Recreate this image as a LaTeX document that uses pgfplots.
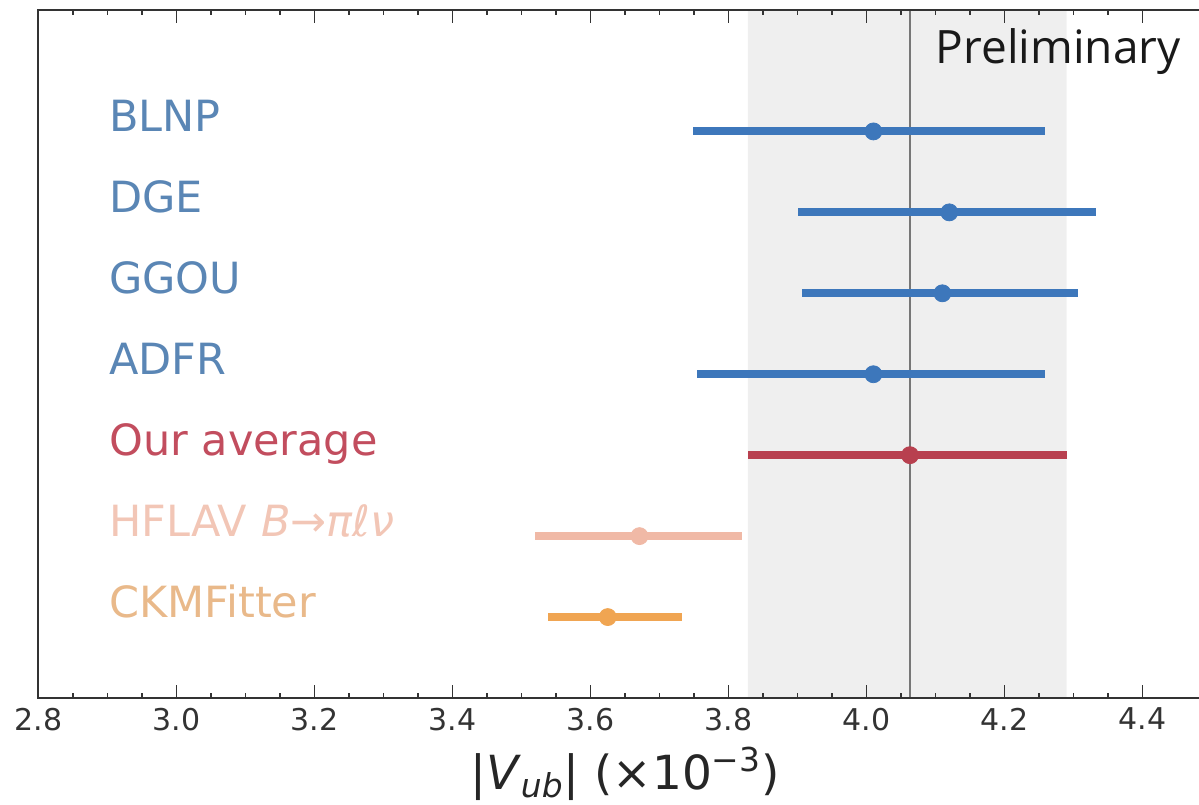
\documentclass[border=0pt]{standalone}
\usepackage{fontspec}
\setmainfont{DejaVu Sans}
\newfontfamily\prelimfont{Open Sans}
\usepackage{pgfplots}
\pgfplotsset{compat=1.18}
\definecolor{cblue}{HTML}{3D77BB}
\definecolor{lblue}{HTML}{5A86B5}
\definecolor{cred}{HTML}{B8404F}
\definecolor{lred}{HTML}{C24D5E}
\definecolor{csalmon}{HTML}{F0B9A6}
\definecolor{lsalmon}{HTML}{F2C6B6}
\definecolor{corange}{HTML}{F0A552}
\definecolor{lorange}{HTML}{E9B98A}
\definecolor{band}{HTML}{EFEFEF}
\definecolor{axisgray}{HTML}{333333}
\definecolor{vline}{HTML}{777777}
\pgfplotsset{
  meas/.style={only marks, mark=*, mark size=4.25pt,
     mark options={fill=#1, draw=#1},
     error bars/.cd, x dir=both, x explicit, error mark=none,
     error bar style={draw=#1, line width=4pt}},
}
\begin{document}
\begin{tikzpicture}
\begin{axis}[
  name=ax,
  scale only axis,
  width=586.5pt, height=344pt,
  xmin=2.8, xmax=4.5, ymin=0, ymax=8.5,
  ytick=\empty,
  xtick={2.8,3.0,3.2,3.4,3.6,3.8,4.0,4.2,4.4},
  xticklabels={2.8,3.0,3.2,3.4,3.6,3.8,4.0,4.2,4.4},
  minor x tick num=3,
  xticklabel style={font=\fontsize{15}{15}\selectfont, text=axisgray, yshift=-1.5pt},
  axis line style={draw=axisgray, line width=1pt},
  tick style={color=axisgray, line width=0.8pt},
  major tick length=6.5pt, minor tick length=2.5pt,
  axis on top,
  xlabel={|\textit{V}\textsubscript{\textit{ub}}| (×10\textsuperscript{−3})},
  xlabel style={font=\fontsize{23.5}{23.5}\selectfont, text=black!85, yshift=-1.2pt},
]
% combined average band and central value
\addplot[draw=none, fill=band, mark=none, forget plot] coordinates {(3.828,0) (4.290,0) (4.290,8.5) (3.828,8.5)} \closedcycle;
\addplot[draw=vline, line width=1pt, mark=none] coordinates {(4.063,0) (4.063,8.5)};
% BLNP, DGE, GGOU, ADFR
\addplot[meas=cblue]
  coordinates {
    (4.010,7) -= (0.261,0) += (0.249,0)
    (4.120,6) -= (0.220,0) += (0.212,0)
    (4.110,5) -= (0.204,0) += (0.197,0)
    (4.010,4) -= (0.255,0) += (0.249,0)
  };
% Our average
\addplot[meas=cred]
  coordinates {(4.063,3) -= (0.235,0) += (0.227,0)};
% HFLAV B -> pi l nu
\addplot[meas=csalmon]
  coordinates {(3.671,2) -= (0.151,0) += (0.149,0)};
% CKMFitter
\addplot[meas=corange]
  coordinates {(3.625,1) -= (0.086,0) += (0.108,0)};
% labels
\begin{scope}[every node/.style={anchor=base west, font=\fontsize{21.5}{21.5}\selectfont, inner sep=0pt}]
\node[text=lblue] at (axis cs:2.902,7) {BLNP};
\node[text=lblue] at (axis cs:2.902,6) {DGE};
\node[text=lblue] at (axis cs:2.902,5) {GGOU};
\node[text=lblue] at (axis cs:2.902,4) {ADFR};
\node[text=lred] at (axis cs:2.902,3) {Our average};
\node[text=lsalmon] at (axis cs:2.902,2) {HFLAV \textit{B→πℓν}};
\node[text=lorange] at (axis cs:2.902,1) {CKMFitter};
\end{scope}
\node[anchor=base east, inner sep=0pt, font=\prelimfont\fontsize{23}{23}\selectfont, text=black!90] at (axis cs:4.456,7.84) {Preliminary};
\end{axis}
\pgfresetboundingbox
\path[use as bounding box] (ax.south west) ++(-19.25pt,-53pt) rectangle ++(599.5pt,402pt);
\end{tikzpicture}
\end{document}
